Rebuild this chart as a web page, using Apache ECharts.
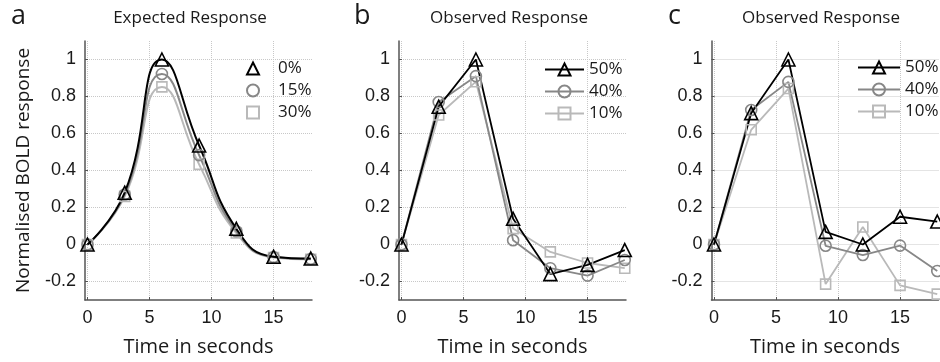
<!DOCTYPE html>
<html>
<head>
<meta charset="utf-8">
<script src="https://cdn.jsdelivr.net/npm/echarts@6/dist/echarts.min.js"></script>
<style>
html,body{margin:0;padding:0;background:#fff;}
#chart{width:940px;height:362px;}
</style>
</head>
<body>
<div id="chart"></div>
<script>
// ---- data ----
const timePoints = [0, 3, 6, 9, 12, 15, 18];

const panelLetters = ['a', 'b', 'c'];
const panelTitles = ['Expected Response', 'Observed Response', 'Observed Response'];
const xAxisTitle = 'Time in seconds';
const yAxisTitle = 'Normalised BOLD response';

const expectedNames = ['0%', '15%', '30%'];
const expected0  = [0, 0.28, 1.00, 0.535, 0.085, -0.066, -0.076];
const expected15 = [0, 0.27, 0.922, 0.483, 0.072, -0.068, -0.078];
const expected30 = [0, 0.26, 0.852, 0.433, 0.062, -0.070, -0.080];

const observedNames = ['50%', '40%', '10%'];
const obsB50 = [0, 0.745, 1.00, 0.139, -0.160, -0.110, -0.030];
const obsB40 = [0, 0.770, 0.910, 0.023, -0.128, -0.168, -0.084];
const obsB10 = [0, 0.700, 0.880, 0.086, -0.040, -0.100, -0.128];

const obsC50 = [0, 0.710, 1.00, 0.068, 0.000, 0.150, 0.124];
const obsC40 = [0, 0.727, 0.879, -0.007, -0.057, -0.006, -0.143];
const obsC10 = [0, 0.620, 0.843, -0.214, 0.095, -0.221, -0.268];

// ---- styling ----
const BLACK = '#000000', GREY = '#878787', LIGHT = '#b9b9b9';
const TXT = "'Open Sans', 'DejaVu Sans', sans-serif";
const NUM = "'Liberation Sans', Arial, sans-serif";

const grids = [
  {left: 85,    top: 41, width: 227, height: 260.3},
  {left: 399,   top: 41, width: 227, height: 260.3},
  {left: 711.5, top: 41, width: 227, height: 260.3}
];

function pts(vals) { return timePoints.map((t, i) => [t, vals[i]]); }

function mkSeries(name, vals, idx, color, symbol, size, lw, smooth) {
  return {
    type: 'line', name: name, data: pts(vals),
    xAxisIndex: idx, yAxisIndex: idx,
    smooth: smooth ? 0.5 : false,
    symbol: symbol, symbolSize: size,
    showAllSymbol: true,
    lineStyle: {color: color, width: lw},
    itemStyle: {color: 'rgba(255,255,255,0)', borderColor: color, borderWidth: 1.6},
    emphasis: {disabled: true},
    animation: false,
    z: 3
  };
}

const series = [
  mkSeries(expectedNames[2], expected30, 0, LIGHT, 'rect', 10, 2, true),
  mkSeries(expectedNames[1], expected15, 0, GREY, 'circle', 11, 2, true),
  mkSeries(expectedNames[0], expected0, 0, BLACK, 'triangle', 13, 2, true),
  mkSeries(observedNames[2], obsB10, 1, LIGHT, 'rect', 10, 1.8, false),
  mkSeries(observedNames[1], obsB40, 1, GREY, 'circle', 11, 1.8, false),
  mkSeries(observedNames[0], obsB50, 1, BLACK, 'triangle', 13, 1.8, false),
  mkSeries(observedNames[2], obsC10, 2, LIGHT, 'rect', 10, 1.8, false),
  mkSeries(observedNames[1], obsC40, 2, GREY, 'circle', 11, 1.8, false),
  mkSeries(observedNames[0], obsC50, 2, BLACK, 'triangle', 13, 1.8, false)
];

const xAxes = grids.map((g, i) => ({
  type: 'value', gridIndex: i, min: -0.2, max: 18.1, splitNumber: 4,
  name: xAxisTitle, nameLocation: 'middle', nameGap: 37,
  nameTextStyle: {fontFamily: TXT, fontSize: 20, color: '#1a1a1a'},
  axisLine: {show: true, onZero: false, lineStyle: {color: '#555', width: 1.5}},
  axisTick: {show: true, inside: true, length: 3, lineStyle: {color: '#555'}},
  axisLabel: {fontFamily: NUM, fontSize: 18, color: '#1a1a1a', margin: 9,
              showMinLabel: false, showMaxLabel: false},
  splitLine: {show: true, showMinLine: false, showMaxLine: false,
              lineStyle: {color: '#c8c8c8', type: 'dotted', width: 1}}
}));

const yAxes = grids.map((g, i) => ({
  type: 'value', gridIndex: i, min: -0.3, max: 1.1, splitNumber: 7,
  name: i === 0 ? yAxisTitle : '', nameLocation: 'middle', nameGap: 52,
  nameTextStyle: {fontFamily: TXT, fontSize: 19, color: '#1a1a1a'},
  axisLine: {show: true, onZero: false, lineStyle: {color: '#555', width: 1.5}},
  axisTick: {show: true, inside: true, length: 3, lineStyle: {color: '#555'}},
  axisLabel: {fontFamily: NUM, fontSize: 18, color: '#1a1a1a', margin: 9,
              showMinLabel: false, showMaxLabel: false},
  splitLine: {show: true, showMinLine: false, showMaxLine: false,
              lineStyle: {color: '#c8c8c8', type: 'dotted', width: 1}}
}));

const titleCenters = [190, 509, 821];
const letterLefts = [11, 354, 668];
const titles = [];
panelTitles.forEach((t, i) => titles.push({
  text: t, left: titleCenters[i], top: 10, textAlign: 'center', padding: 0,
  textStyle: {fontFamily: TXT, fontSize: 17, fontWeight: 'normal', color: '#1a1a1a'}
}));
panelLetters.forEach((t, i) => titles.push({
  text: t, left: letterLefts[i], top: 3, padding: 0,
  textStyle: {fontFamily: TXT, fontSize: 27, fontWeight: 'normal', color: '#1a1a1a'}
}));

const legendText = {fontFamily: TXT, fontSize: 17, color: '#1a1a1a'};
const legends = [
  {data: expectedNames, orient: 'vertical', left: 232, top: 60, padding: 0,
   itemWidth: 40, itemHeight: 15, itemGap: 5, selectedMode: false,
   lineStyle: {opacity: 0, color: 'rgba(0,0,0,0)'}, textStyle: legendText},
  {data: observedNames, orient: 'vertical', left: 544, top: 61, padding: 0,
   itemWidth: 39, itemHeight: 15, itemGap: 5, selectedMode: false, textStyle: legendText},
  {data: observedNames, orient: 'vertical', left: 857, top: 59, padding: 0,
   itemWidth: 42, itemHeight: 15, itemGap: 5, selectedMode: false, textStyle: legendText}
];

const chart = echarts.init(document.getElementById('chart'), null, {renderer: 'canvas'});
chart.setOption({
  animation: false,
  backgroundColor: '#fff',
  title: titles,
  legend: legends,
  grid: grids,
  xAxis: xAxes,
  yAxis: yAxes,
  series: series
});
</script>
</body>
</html>
